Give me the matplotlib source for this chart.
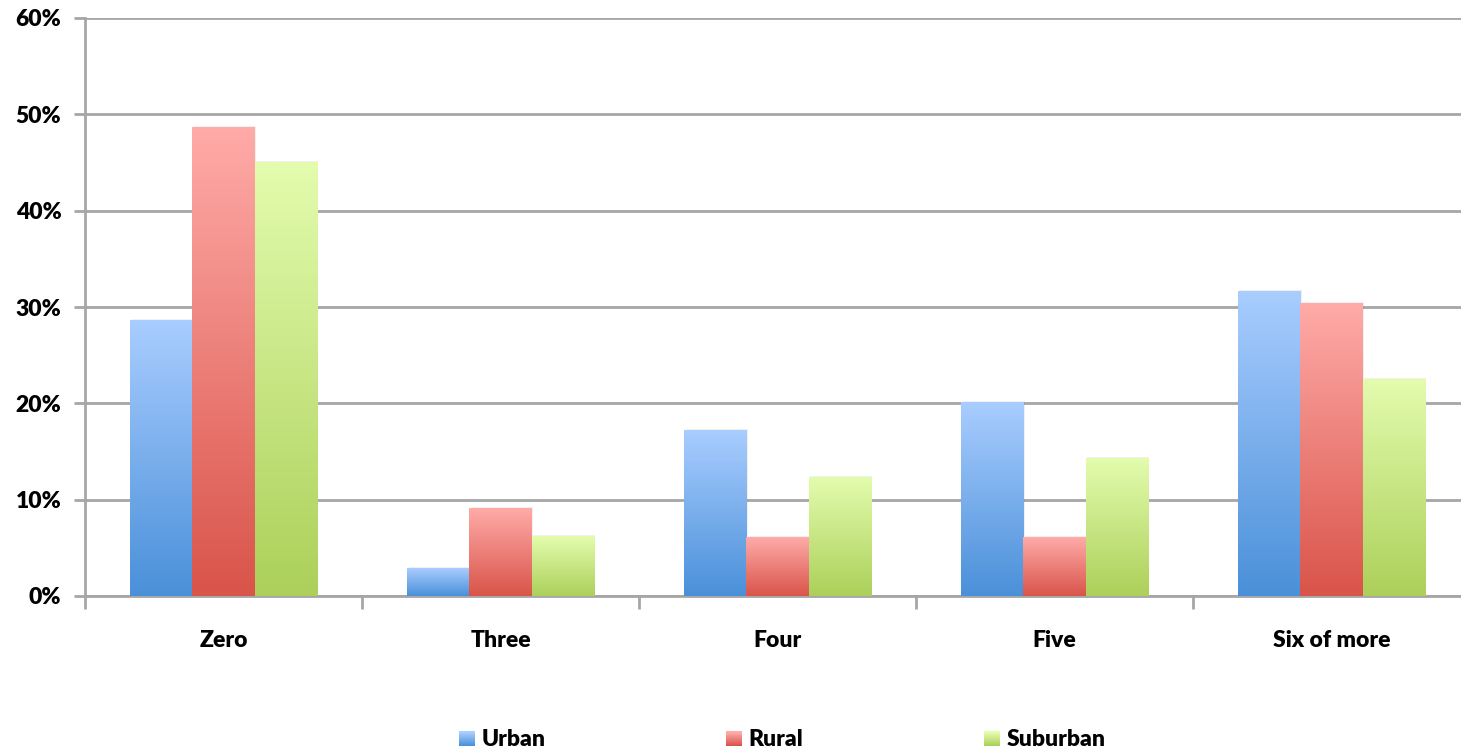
import numpy as np
import matplotlib
matplotlib.use('Agg')
import matplotlib.pyplot as plt
from matplotlib.colors import LinearSegmentedColormap
from matplotlib.patches import Rectangle
from matplotlib.legend_handler import HandlerBase
from matplotlib.ticker import FuncFormatter

# data (percent)
categories = ['Zero', 'Three', 'Four', 'Five', 'Six of more']
series_names = ['Urban', 'Rural', 'Suburban']
urban = [28.6, 2.9, 17.2, 20.1, 31.6]
rural = [48.6, 9.1, 6.1, 6.1, 30.4]
suburban = [45.0, 6.2, 12.3, 14.3, 22.5]

# (bottom colour, top colour) of each gradient
grad_colors = [('#4a90d9', '#a9cdff'),
               ('#d9544a', '#ffaba8'),
               ('#acd05a', '#e3fcae')]

plt.rcParams['font.family'] = ['Lato', 'DejaVu Sans']
plt.rcParams['font.weight'] = 'heavy'

fig = plt.figure(figsize=(14.61, 7.54), dpi=100)
ax = fig.add_axes([85/1461, 1 - 596/754, 1385/1461, 578/754])

x = np.arange(len(categories))
w = 0.224
cmaps = [LinearSegmentedColormap.from_list('g%d' % i, c) for i, c in enumerate(grad_colors)]
grad = np.linspace(0, 1, 256).reshape(-1, 1)

for i, vals in enumerate([urban, rural, suburban]):
    bars = ax.bar(x + (i - 1) * w, vals, w, color='none', edgecolor='none')
    for b in bars:
        x0, h = b.get_x(), b.get_height()
        # soft shadow
        ax.add_patch(Rectangle((x0 + 0.006, 0), w, h + 0.15, color='#000000',
                               alpha=0.06, lw=0, zorder=2))
        ax.imshow(grad, cmap=cmaps[i], origin='lower', aspect='auto',
                  extent=[x0, x0 + w, 0, h], zorder=3, interpolation='bilinear')

ax.set_xlim(-0.5, len(categories) - 0.5)
ax.set_ylim(0, 60)
ax.set_yticks(range(0, 61, 10))
ax.yaxis.set_major_formatter(FuncFormatter(lambda v, p: '%d%%' % v))
ax.yaxis.grid(True, color='#a6a6a6', lw=2)
ax.set_axisbelow(True)

ax.set_xticks(x)
ax.set_xticklabels(categories)
ax.set_xticks(np.arange(-0.5, len(categories), 1), minor=True)
ax.tick_params(axis='x', which='major', length=0, pad=24.5, labelsize=16.5)
ax.tick_params(axis='x', which='minor', length=9, width=2, color='#a6a6a6', direction='out')
ax.tick_params(axis='y', length=8, width=2, color='#a6a6a6', pad=9, labelsize=16.5)

for s in ['top', 'right']:
    ax.spines[s].set_visible(False)
for s in ['left', 'bottom']:
    ax.spines[s].set_color('#a6a6a6')
    ax.spines[s].set_linewidth(2)


class GradHandler(HandlerBase):
    def __init__(self, cols):
        super().__init__()
        self.cols = cols

    def create_artists(self, legend, orig, xd, yd, width, height, fontsize, trans):
        cm = LinearSegmentedColormap.from_list('h', self.cols)
        n = 14
        out = []
        for k in range(n):
            r = Rectangle((xd, yd + height * k / n + height * 0.05), width, height / n * 1.05,
                          color=cm(k / (n - 1)), lw=0, transform=trans)
            out.append(r)
        return out


handles = [Rectangle((0, 0), 1, 1) for _ in series_names]
hmap = {h: GradHandler(c) for h, c in zip(handles, grad_colors)}
fig.legend(handles, series_names, handler_map=hmap, loc='center left',
           bbox_to_anchor=(459/1461, 1 - 740/754), ncol=3, frameon=False,
           fontsize=16.5, handlelength=0.7, handleheight=0.62, handletextpad=0.27,
           columnspacing=7.9, borderpad=0, borderaxespad=0)

fig.savefig('out.png', dpi=100)
